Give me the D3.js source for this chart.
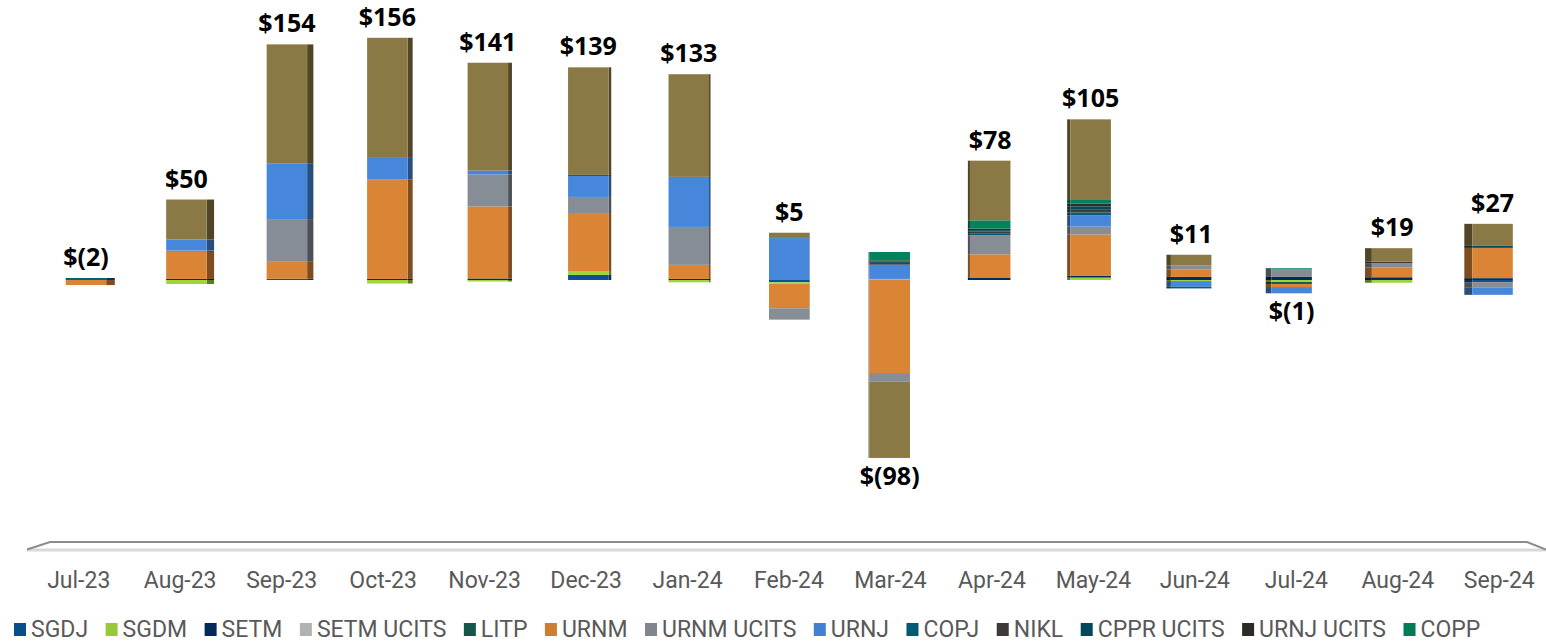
<!DOCTYPE html>
<html>
<head>
<meta charset="utf-8">
<script src="https://cdn.jsdelivr.net/npm/d3@7"></script>
<style>
  body { margin: 0; background: #fff; }
  svg { display: block; }
</style>
</head>
<body>
<svg id="chart" width="1546" height="644"></svg>
<script>
const months = ["Jul-23", "Aug-23", "Sep-23", "Oct-23", "Nov-23", "Dec-23", "Jan-24",
  "Feb-24", "Mar-24", "Apr-24", "May-24", "Jun-24", "Jul-24", "Aug-24", "Sep-24"];

// monthly flows ($M)
const sgdj      = [0, 0, 0, 0, 0, 3.3, 0, -1.5, 0, 0, 0, 0, 0, 0, -1.4];
const sgdm      = [0, -2.6, 0, -2.3, -1.0, 2.6, -1.5, -1.0, 0.7, 0, 1.6, -0.7, -1.3, -1.8, 0];
const setm      = [0, 0.7, 0, 0.7, 1.0, 0, 0.7, 0, 0, 1.3, 1.3, 2.0, 2.0, 1.8, 1.2];
const setmUcits = [0, 0, 0, 0, 0, 0, 0, 0, 0, 0, 0, 0, 0, 0, 0];
const litp      = [0, 0, 0.8, 0, 0, 0, 0, 0, 0, 0, 0, 0, -1.3, 0, 0];
const urnm      = [-3.3, 17.6, 11.1, 64.9, 47.0, 37.3, 9.2, -16.0, -60.8, 15.5, 26.8, 5.0, -2.0, 6.3, 19.8];
const urnmUcits = [0, 1.0, 27.9, 0, 20.9, 11.1, 24.8, -7.4, -5.7, 12.4, 5.2, 2.6, 5.2, 2.9, -3.7];
const urnj      = [0, 7.2, 36.5, 14.2, 2.6, 13.7, 32.7, 27.3, 9.3, 0, 7.4, -3.7, -4.1, 0, -4.6];
const copj      = [1.3, 0, 0, 0, 0, 0.7, 0, 0.6, 0, 1.0, 1.8, -1.1, 0, 0, 0];
const nikl      = [0, 0, 0, 0, 0, 0, 0, 0, 1.2, 1.4, 2.2, 0, 0, 1.0, 0];
const cpprUcits = [0, 0, 0, 0, 0, 0, 0, 0, 0.8, 1.0, 1.8, 0, 0, 0, 1.3];
const urnjUcits = [0, 0, 0, 0, 0, 0, 0, 0, 0.8, 1.0, 1.8, 0, 0, 0, 0];
const copp      = [0, 0, 0, 0, 0, 0, 0, 0, 5.5, 5.4, 2.4, 0, 0.5, 0, 0];
const other     = [0, 26.1, 77.7, 78.5, 70.5, 70.3, 67.1, 3.0, -49.8, 39.0, 52.7, 6.9, 0, 8.8, 14.4];

const seriesNames = ["SGDJ", "SGDM", "SETM", "SETM UCITS", "LITP", "URNM", "URNM UCITS",
  "URNJ", "COPJ", "NIKL", "CPPR UCITS", "URNJ UCITS", "COPP", "Other"];
const seriesValues = [sgdj, sgdm, setm, setmUcits, litp, urnm, urnmUcits,
  urnj, copj, nikl, cpprUcits, urnjUcits, copp, other];
const legendNames = seriesNames.slice(0, 13); // "Other" has no legend entry in the source

const labelsBelow = ["Mar-24", "Jul-24"];

const colors = ["#0a4d8c", "#98c93a", "#03295a", "#b2b2b2", "#15564a", "#cf7d33", "#7f868d",
  "#4380d0", "#045a71", "#3d3a37", "#02485a", "#2d2a27", "#027b57", "#837340"];

const VP = 815;          // horizontal vanishing point of the 3D columns
const BAR_W = 40.5;

const svg = d3.select("#chart");

const rows = months.map((m, i) => {
  const r = { month: m };
  seriesNames.forEach((s, j) => (r[s] = seriesValues[j][i]));
  return r;
});

const stack = d3.stack().keys(seriesNames).offset(d3.stackOffsetDiverging);
const layers = stack(rows);

const x = d3.scaleBand().domain(months).range([28, 1550]);
const y = d3.scaleLinear().domain([-150, 150]).range([509.5, 50.5]);
const color = d3.scaleOrdinal().domain(seriesNames).range(colors);

const barCenter = (m) => {
  const c = x(m) + x.bandwidth() / 2;
  return c + (VP - c) * 0.0098;
};
const sideWidth = (m) => Math.abs(barCenter(m) - VP) * 0.0118;

// floor
const floor = svg.append("g");
floor.append("path")
  .attr("d", "M27,550 L50,542 L1527,542 L1546,549 Z")
  .attr("fill", "#fff")
  .attr("stroke", "none");
floor.append("line")
  .attr("x1", 27).attr("x2", 1546).attr("y1", 550).attr("y2", 550)
  .attr("stroke", "#d9d9d9").attr("stroke-width", 3);
floor.append("path")
  .attr("d", "M27,549.5 L50,542 L1527,542 L1546,549.5")
  .attr("fill", "none")
  .attr("stroke", "#8c8c8c").attr("stroke-width", 2);

// columns
const bars = svg.append("g");
layers.forEach((layer) => {
  const base = color(layer.key);
  const g = bars.append("g").attr("class", "series");
  const segs = layer.filter((d) => d[1] - d[0] !== 0);

  g.selectAll("rect.side")
    .data(segs)
    .join("rect")
    .attr("class", "side")
    .attr("x", (d) => {
      const c = barCenter(d.data.month);
      return c < VP ? c + BAR_W / 2 : c - BAR_W / 2 - sideWidth(d.data.month);
    })
    .attr("y", (d) => y(Math.max(d[0], d[1])))
    .attr("width", (d) => sideWidth(d.data.month))
    .attr("height", (d) => Math.abs(y(d[0]) - y(d[1])))
    .attr("fill", d3.color(base).darker(1.4));

  g.selectAll("rect.front")
    .data(segs)
    .join("rect")
    .attr("class", "front")
    .attr("x", (d) => barCenter(d.data.month) - BAR_W / 2)
    .attr("y", (d) => y(Math.max(d[0], d[1])))
    .attr("width", BAR_W)
    .attr("height", (d) => Math.abs(y(d[0]) - y(d[1])))
    .attr("fill", d3.color(base).brighter(0.15));
});

// totals
const fmt = (v) => {
  const n = Math.round(v);
  return n < 0 ? `$(${Math.abs(n)})` : `$${n}`;
};
const totals = rows.map((r, i) => {
  let pos = 0, neg = 0;
  seriesValues.forEach((vals) => {
    if (vals[i] > 0) pos += vals[i];
    else neg += vals[i];
  });
  return { month: r.month, total: pos + neg, pos, neg };
});

svg.append("g")
  .selectAll("text")
  .data(totals)
  .join("text")
  .attr("x", (d) => barCenter(d.month))
  .attr("y", (d) => labelsBelow.includes(d.month) ? y(d.neg) + 27 : y(d.pos) - 12)
  .attr("text-anchor", "middle")
  .attr("font-family", "'Open Sans', 'Noto Sans', sans-serif")
  .attr("font-weight", 700)
  .attr("font-size", 25)
  .attr("fill", "#000")
  .text((d) => fmt(d.total));

// category axis
const axis = svg.append("g")
  .attr("transform", "translate(0,570)")
  .call(d3.axisBottom(x).tickSize(0).tickPadding(0));
axis.select(".domain").remove();
axis.selectAll("text")
  .attr("dy", "0.78em")
  .attr("font-family", "Roboto, sans-serif")
  .attr("font-size", 23)
  .attr("fill", "#595959");

// legend
const legend = svg.append("g").attr("transform", "translate(14,0)");
let lx = 0;
legendNames.forEach((name) => {
  const item = legend.append("g").attr("transform", `translate(${lx},0)`);
  item.append("rect")
    .attr("x", 0).attr("y", 623)
    .attr("width", 12).attr("height", 13)
    .attr("fill", color(name));
  const t = item.append("text")
    .attr("x", 17).attr("y", 637)
    .attr("font-family", "Roboto, sans-serif")
    .attr("font-size", 23)
    .attr("fill", "#595959")
    .text(name);
  lx += 17 + t.node().getComputedTextLength() + 17.5;
});
</script>
</body>
</html>
